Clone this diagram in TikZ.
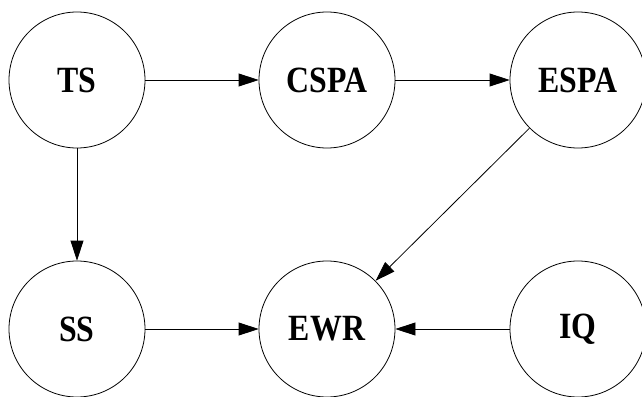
\documentclass[tikz,border=0pt]{standalone}
\usepackage{fontspec}
\setmainfont{Liberation Serif}
\newfontfamily\nodefont[FakeStretch=0.86]{Liberation Serif}
\usetikzlibrary{arrows.meta}
\begin{document}
\begin{tikzpicture}[x=1pt,y=-1pt,
  state/.style={circle,draw,line width=0.8pt,minimum size=136pt,inner sep=0pt,font=\nodefont\fontsize{37}{37}\selectfont\bfseries},
  link/.style={line width=0.8pt,-{Triangle[length=20pt,width=13pt]}}]
\useasboundingbox (0,0) rectangle (642,396);
\clip (0,0) rectangle (642,396);
\fill[white] (0,0) rectangle (642,396);
\node[state] (ts) at (77,80) {TS};
\node[state] (cspa) at (327,80) {CSPA};
\node[state] (espa) at (578,80) {ESPA};
\node[state] (ss) at (77,329) {SS};
\node[state] (ewr) at (327,329) {EWR};
\node[state] (iq) at (578,329) {IQ};
\draw[link] (ts) -- (cspa);
\draw[link] (cspa) -- (espa);
\draw[link] (ts) -- (ss);
\draw[link] (espa) -- (ewr);
\draw[link] (ss) -- (ewr);
\draw[link] (iq) -- (ewr);
\end{tikzpicture}
\end{document}
